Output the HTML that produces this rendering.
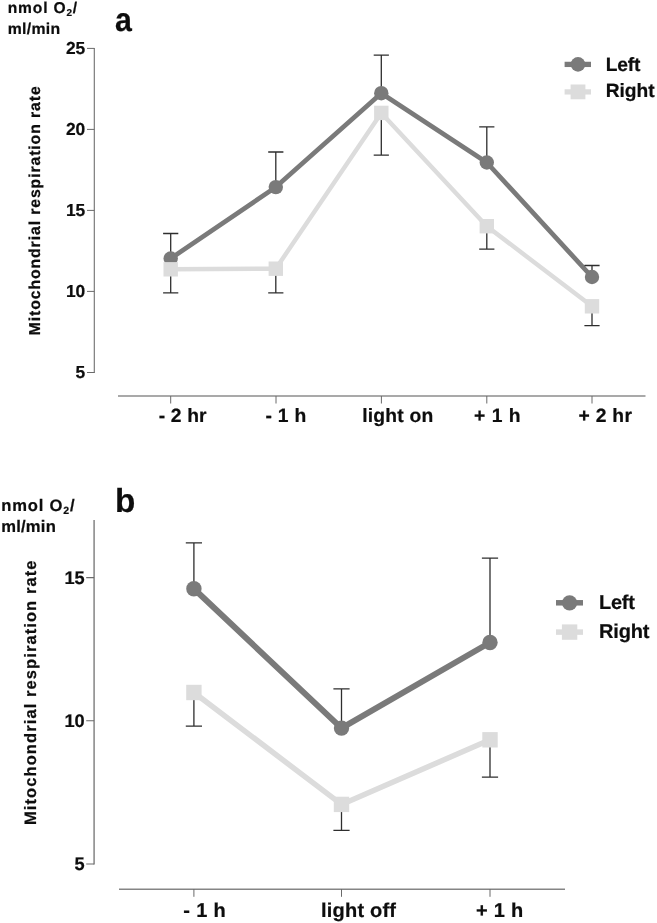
<!DOCTYPE html>
<html><head><meta charset="utf-8"><title>Mitochondrial respiration rate</title>
<style>
html,body{margin:0;padding:0;background:#fff;}
body{width:657px;height:923px;overflow:hidden;}
svg{display:block;will-change:transform;}
text{font-family:"Liberation Sans",sans-serif;font-weight:bold;fill:#0d0d0d;stroke:#0d0d0d;stroke-width:0.22px;text-rendering:geometricPrecision;}
</style></head><body>
<svg width="657" height="923" viewBox="0 0 657 923">
<rect width="657" height="923" fill="#fff"/>
<g id="panel-a">
<path d="M94.35 47.9V373" stroke="#858585" stroke-width="1.3" fill="none"/>
<path d="M87 48.4H94.4M87 129.4H94.4M87 210.4H94.4M87 291.4H94.4M87 372.5H94.4" stroke="#6a6a6a" stroke-width="1" fill="none"/>
<path d="M118 396H645.5" stroke="#8c8c8c" stroke-width="1.5" fill="none"/>
<path d="M170.7 396V403.5M276 396V403.5M381.4 396V403.5M486.8 396V403.5M592 396V403.5" stroke="#6a6a6a" stroke-width="1" fill="none"/>
<polyline points="170.7,269.3 275.8,268.7 381.3,112.9 486.8,226.2 592.0,306.3" fill="none" stroke="#dcdcdc" stroke-width="4.4" stroke-linejoin="round"/>
<polyline points="170.7,258.5 275.8,187.1 381.3,93.2 486.8,162.5 592.0,277.0" fill="none" stroke="#7a7a7a" stroke-width="4.7" stroke-linejoin="round"/>
<path d="M170.7 258.5V233.5M163.1 233.5H178.3" stroke="#2e2e2e" stroke-width="1.3" fill="none"/>
<path d="M275.8 187.1V152.0M268.2 152.0H283.4" stroke="#2e2e2e" stroke-width="1.3" fill="none"/>
<path d="M381.3 93.2V55.1M373.7 55.1H388.9" stroke="#2e2e2e" stroke-width="1.3" fill="none"/>
<path d="M486.8 162.5V126.8M479.2 126.8H494.4" stroke="#2e2e2e" stroke-width="1.3" fill="none"/>
<path d="M592.0 277.0V265.5M584.4 265.5H599.6" stroke="#2e2e2e" stroke-width="1.3" fill="none"/>
<path d="M170.7 269.3V292.9M163.1 292.9H178.3" stroke="#2e2e2e" stroke-width="1.3" fill="none"/>
<path d="M275.8 268.7V292.9M268.2 292.9H283.4" stroke="#2e2e2e" stroke-width="1.3" fill="none"/>
<path d="M381.3 112.9V155.2M373.7 155.2H388.9" stroke="#2e2e2e" stroke-width="1.3" fill="none"/>
<path d="M486.8 226.2V249.1M479.2 249.1H494.4" stroke="#2e2e2e" stroke-width="1.3" fill="none"/>
<path d="M592.0 306.3V325.6M584.4 325.6H599.6" stroke="#2e2e2e" stroke-width="1.3" fill="none"/>
<circle cx="170.7" cy="258.5" r="7.2" fill="#7a7a7a"/>
<circle cx="275.8" cy="187.1" r="7.2" fill="#7a7a7a"/>
<circle cx="381.3" cy="93.2" r="7.2" fill="#7a7a7a"/>
<circle cx="486.8" cy="162.5" r="7.2" fill="#7a7a7a"/>
<circle cx="592.0" cy="277.0" r="7.2" fill="#7a7a7a"/>
<rect x="163.5" y="262.1" width="14.4" height="14.4" fill="#dcdcdc"/>
<rect x="268.6" y="261.5" width="14.4" height="14.4" fill="#dcdcdc"/>
<rect x="374.1" y="105.7" width="14.4" height="14.4" fill="#dcdcdc"/>
<rect x="479.6" y="219.0" width="14.4" height="14.4" fill="#dcdcdc"/>
<rect x="584.8" y="299.1" width="14.4" height="14.4" fill="#dcdcdc"/>
<text x="85.2" y="54.1" font-size="17.4" text-anchor="end" textLength="19.1" lengthAdjust="spacing">25</text>
<text x="85.2" y="135.1" font-size="17.4" text-anchor="end" textLength="19.1" lengthAdjust="spacing">20</text>
<text x="85.2" y="216.1" font-size="17.4" text-anchor="end" textLength="19.1" lengthAdjust="spacing">15</text>
<text x="85.2" y="297.09999999999997" font-size="17.4" text-anchor="end" textLength="19.1" lengthAdjust="spacing">10</text>
<text x="85.2" y="378.2" font-size="17.4" text-anchor="end">5</text>
<text x="158.8" y="422" font-size="19.3" text-anchor="start" textLength="47.8" lengthAdjust="spacing">- 2 hr</text>
<text x="265.6" y="422" font-size="19.3" text-anchor="start" textLength="40.6" lengthAdjust="spacing">- 1 h</text>
<text x="362.2" y="422" font-size="19.3" text-anchor="start" textLength="71" lengthAdjust="spacing">light on</text>
<text x="474" y="422" font-size="19.3" text-anchor="start" textLength="46.5" lengthAdjust="spacing">+ 1 h</text>
<text x="578.5" y="422" font-size="19.3" text-anchor="start" textLength="53.4" lengthAdjust="spacing">+ 2 hr</text>
<text x="7.7" y="13.3" font-size="15.6" textLength="69.5" lengthAdjust="spacing">nmol O<tspan font-size="10" dy="3">2</tspan><tspan dy="-3">/</tspan></text>
<text x="7.7" y="34" font-size="15.8" text-anchor="start" textLength="52.5" lengthAdjust="spacing">ml/min</text>
<text transform="translate(115 30.4) scale(0.91 1)" font-size="33.3" y="0.3">a</text>
<text transform="translate(39.7 335.3) rotate(-90)" font-size="15.8" textLength="249" lengthAdjust="spacing">Mitochondrial respiration rate</text>
<path d="M564.6 64.4H591" stroke="#7a7a7a" stroke-width="5.3"/><circle cx="578" cy="64.4" r="7.3" fill="#7a7a7a"/>
<path d="M564.6 91.9H591" stroke="#dcdcdc" stroke-width="5.3"/><rect x="570.6" y="84.5" width="14.8" height="14.8" fill="#dcdcdc"/>
<text x="605.7" y="70.5" font-size="19.2" text-anchor="start" textLength="34.6" lengthAdjust="spacing">Left</text>
<text x="605.7" y="97.3" font-size="19.2" text-anchor="start" textLength="48.9" lengthAdjust="spacing">Right</text>
</g>
<g id="panel-b">
<path d="M94.1 520V864.6" stroke="#8c8c8c" stroke-width="1.6" fill="none"/>
<path d="M86.2 577.6H94.1M86.2 720.8H94.1M86.2 864H94.1" stroke="#6a6a6a" stroke-width="1.1" fill="none"/>
<path d="M119 889.2H565" stroke="#858585" stroke-width="1.4" fill="none"/>
<path d="M193.9 889V896.8M341.5 889V896.8M490 889V896.8" stroke="#6a6a6a" stroke-width="1" fill="none"/>
<polyline points="193.9,692.5 341.5,804.4 490.0,739.8" fill="none" stroke="#dcdcdc" stroke-width="5.5" stroke-linejoin="round"/>
<polyline points="193.9,588.8 341.5,728.1 490.0,642.5" fill="none" stroke="#7a7a7a" stroke-width="6.0" stroke-linejoin="round"/>
<path d="M193.9 588.8V542.9M185.8 542.9H202.0" stroke="#2e2e2e" stroke-width="1.3" fill="none"/>
<path d="M341.5 728.1V688.9M333.4 688.9H349.6" stroke="#2e2e2e" stroke-width="1.3" fill="none"/>
<path d="M490.0 642.5V558.2M481.9 558.2H498.1" stroke="#2e2e2e" stroke-width="1.3" fill="none"/>
<path d="M193.9 692.5V726.2M185.8 726.2H202.0" stroke="#2e2e2e" stroke-width="1.3" fill="none"/>
<path d="M341.5 804.4V830.3M333.4 830.3H349.6" stroke="#2e2e2e" stroke-width="1.3" fill="none"/>
<path d="M490.0 739.8V777.2M481.9 777.2H498.1" stroke="#2e2e2e" stroke-width="1.3" fill="none"/>
<circle cx="193.9" cy="588.8" r="7.7" fill="#7a7a7a"/>
<circle cx="341.5" cy="728.1" r="7.7" fill="#7a7a7a"/>
<circle cx="490.0" cy="642.5" r="7.7" fill="#7a7a7a"/>
<rect x="186.2" y="684.8" width="15.4" height="15.4" fill="#dcdcdc"/>
<rect x="333.8" y="796.7" width="15.4" height="15.4" fill="#dcdcdc"/>
<rect x="482.3" y="732.1" width="15.4" height="15.4" fill="#dcdcdc"/>
<text x="84.6" y="583.6" font-size="18.2" text-anchor="end" textLength="20.2" lengthAdjust="spacing">15</text>
<text x="84.6" y="726.8" font-size="18.2" text-anchor="end" textLength="20.2" lengthAdjust="spacing">10</text>
<text x="84.6" y="870.0" font-size="18.2" text-anchor="end">5</text>
<text x="183.3" y="917" font-size="20" text-anchor="start" textLength="42.4" lengthAdjust="spacing">- 1 h</text>
<text x="321" y="917" font-size="20" text-anchor="start" textLength="75" lengthAdjust="spacing">light off</text>
<text x="476" y="917" font-size="20" text-anchor="start" textLength="47.3" lengthAdjust="spacing">+ 1 h</text>
<text x="1.2" y="510.5" font-size="16.6" textLength="73.3" lengthAdjust="spacing">nmol O<tspan font-size="10.5" dy="3">2</tspan><tspan dy="-3">/</tspan></text>
<text x="1.2" y="532.4" font-size="16.6" text-anchor="start" textLength="54.6" lengthAdjust="spacing">ml/min</text>
<text x="115" y="512.2" font-size="33.3" text-anchor="start">b</text>
<text transform="translate(35.8 825) rotate(-90)" font-size="16.5" textLength="264.5" lengthAdjust="spacing">Mitochondrial respiration rate</text>
<path d="M556 602.8H583" stroke="#7a7a7a" stroke-width="5.5"/><circle cx="569.6" cy="602.8" r="7.6" fill="#7a7a7a"/>
<path d="M556 632.1H583" stroke="#dcdcdc" stroke-width="5.5"/><rect x="561.9" y="624.4" width="15.4" height="15.4" fill="#dcdcdc"/>
<text x="599" y="609.1" font-size="20" text-anchor="start" textLength="35.8" lengthAdjust="spacing">Left</text>
<text x="599" y="638.1" font-size="20" text-anchor="start" textLength="50.4" lengthAdjust="spacing">Right</text>
</g>
</svg></body></html>
